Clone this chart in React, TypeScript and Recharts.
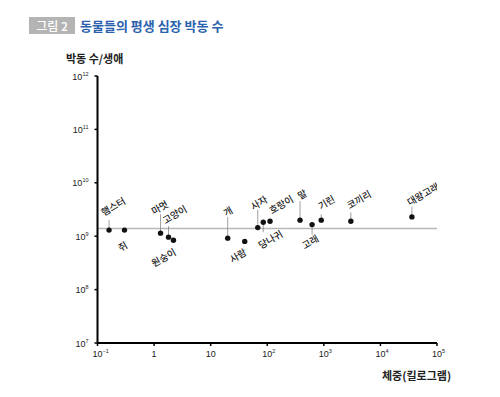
import React from 'react';
import { ScatterChart, Scatter, XAxis, YAxis, ReferenceLine } from 'recharts';

const animals = ['햄스터', '쥐', '마멋', '고양이', '원숭이', '개', '사람', '사자', '당나귀', '호랑이', '말', '고래', '기린', '코끼리', '대왕고래'];
const bodyMassKg = [0.16, 0.3, 1.3, 1.8, 2.2, 20, 40, 68, 85, 112, 380, 620, 900, 3000, 36000];
const lifetimeBeatsBillion = [1.3, 1.3, 1.14, 0.96, 0.84, 0.92, 0.8, 1.45, 1.83, 1.9, 2.0, 1.65, 2.0, 1.9, 2.3];
const averageBeatsBillion = 1.4;
const xTicks = [0.1, 1, 10, 100, 1000, 10000, 100000];
const yTicks = [1e7, 1e8, 1e9, 1e10, 1e11, 1e12];

const titleTag = '그림 2';
const titleText = '동물들의 평생 심장 박동 수';
const yLabel = '박동 수/생애';
const xLabel = '체중(킬로그램)';

// label styling: [dx, dy, leader length (+ up, - down)]
const labelLayout: Record<string, [number, number, number]> = {
  '햄스터': [4, -24, 10],
  '쥐': [-2, 16, 0],
  '마멋': [-1, -26, 19],
  '고양이': [6, -23, 11],
  '원숭이': [-10, 17, 0],
  '개': [0, -27, 21],
  '사람': [-7, 14, 0],
  '사자': [1, -25, 18],
  '당나귀': [7, 17, -10],
  '호랑이': [11, -17, 0],
  '말': [2, -26, 19],
  '고래': [-2, 17, -10],
  '기린': [5, -18, 6],
  '코끼리': [8, -22, 9],
  '대왕고래': [11, -23, 10],
};

const data = animals.map((name, i) => ({
  name,
  mass: bodyMassKg[i],
  beats: lifetimeBeatsBillion[i] * 1e9,
}));

const FONT = "'Noto Sans CJK KR', 'Noto Sans', sans-serif";
const NUMFONT = "'Liberation Sans', Arial, sans-serif";

const expOf = (v: number) => Math.round(Math.log10(v));
const supText = (e: number) => (e < 0 ? '−' + Math.abs(e) : String(e));

const XTick = (props: any) => {
  const { x, y, payload } = props;
  const e = expOf(payload.value);
  if (e === 0 || e === 1) {
    return (
      <text x={x} y={y + 9} textAnchor="middle" fontSize={9} fill="#222" fontFamily={NUMFONT}>
        {e === 0 ? '1' : '10'}
      </text>
    );
  }
  return (
    <g>
      <text x={x} y={y + 9} textAnchor="middle" fontSize={9} fill="#222" fontFamily={NUMFONT}>10</text>
      <text x={x + 5} y={y + 5} textAnchor="start" fontSize={5.5} fill="#222" fontFamily={NUMFONT}>{supText(e)}</text>
    </g>
  );
};

const YTick = (props: any) => {
  const { x, y, payload } = props;
  const e = expOf(payload.value);
  return (
    <text x={x - 4} y={y + 3.5} textAnchor="end" fontSize={9} fill="#222" fontFamily={NUMFONT}>
      <tspan>10</tspan>
      <tspan dy={-4} fontSize={5.5}>{supText(e)}</tspan>
    </text>
  );
};

const PointShape = (props: any) => {
  const { cx, cy, payload } = props;
  const [dx, dy, len] = labelLayout[payload.name] || [0, -20, 0];
  const tx = cx + dx;
  const ty = cy + dy;
  return (
    <g>
      {len !== 0 && (
        <line x1={cx} y1={cy} x2={cx} y2={cy - len} stroke="#888" strokeWidth={0.8} />
      )}
      <circle cx={cx} cy={cy} r={2.7} fill="#111" />
      <text
        x={tx}
        y={ty}
        textAnchor="middle"
        dominantBaseline="central"
        fontSize={9.5}
        fontWeight={500}
        fill="#222"
        fontFamily={FONT}
        transform={`rotate(-30 ${tx} ${ty})`}
      >
        {payload.name}
      </text>
    </g>
  );
};

export default function App() {
  return (
    <div style={{ position: 'absolute', left: 0, top: 0, width: 500, height: 397, background: '#fff', fontFamily: FONT }}>
      <div style={{ position: 'absolute', left: 29, top: 17, width: 46, height: 17, background: '#b4b4b4', color: '#fff', fontSize: 12, lineHeight: '17px', textAlign: 'center', fontWeight: 500 }}>
        {titleTag}
      </div>
      <div style={{ position: 'absolute', left: 80, top: 16, color: '#2a62ad', fontSize: 13, fontWeight: 700, lineHeight: '19px', whiteSpace: 'nowrap' }}>
        {titleText}
      </div>
      <div style={{ position: 'absolute', left: 66, top: 51, color: '#222', fontSize: 11, fontWeight: 700, lineHeight: '14px', whiteSpace: 'nowrap' }}>
        {yLabel}
      </div>
      <div style={{ position: 'absolute', left: 382, top: 368, color: '#222', fontSize: 11, fontWeight: 700, lineHeight: '14px', whiteSpace: 'nowrap' }}>
        {xLabel}
      </div>
      <div style={{ position: 'absolute', left: 0, top: 0 }}>
        <ScatterChart width={500} height={397} margin={{ top: 76, right: 63, bottom: 0, left: 0 }}>
          <XAxis
            type="number"
            dataKey="mass"
            scale="log"
            domain={[0.1, 100000]}
            ticks={xTicks}
            allowDataOverflow
            height={54}
            axisLine={{ stroke: '#000', strokeWidth: 2 }}
            tickLine={{ stroke: '#000', strokeWidth: 1.5 }}
            tickSize={3}
            tick={<XTick />}
            interval={0}
          />
          <YAxis
            type="number"
            dataKey="beats"
            scale="log"
            domain={[1e7, 1e12]}
            ticks={yTicks}
            allowDataOverflow
            width={97.5}
            axisLine={{ stroke: '#000', strokeWidth: 2 }}
            tickLine={{ stroke: '#000', strokeWidth: 1.5 }}
            tickSize={3}
            tick={<YTick />}
            interval={0}
          />
          <ReferenceLine y={averageBeatsBillion * 1e9} stroke="#b8b8b8" strokeWidth={1.5} />
          <Scatter data={data} shape={<PointShape />} isAnimationActive={false} />
        </ScatterChart>
      </div>
    </div>
  );
}
